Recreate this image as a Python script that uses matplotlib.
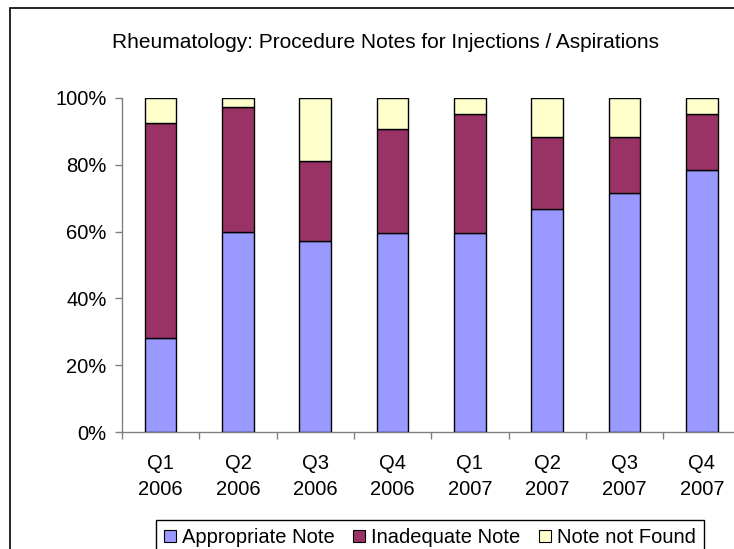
import matplotlib
matplotlib.use("Agg")
import matplotlib.pyplot as plt
from matplotlib.patches import Rectangle, Patch
from matplotlib.ticker import FixedLocator, PercentFormatter
import numpy as np

plt.rcParams["font.family"] = ["Liberation Sans", "DejaVu Sans"]

# ── data (percent of notes per quarter) ──────────────────────────────────────
quarters = ["Q1\n2006", "Q2\n2006", "Q3\n2006", "Q4\n2006",
            "Q1\n2007", "Q2\n2007", "Q3\n2007", "Q4\n2007"]
appropriate = [28.0, 60.0, 57.3, 59.5, 59.5, 66.8, 71.6, 78.5]
inadequate  = [64.5, 37.4, 23.9, 31.2, 35.7, 21.5, 16.7, 16.7]
not_found   = [7.5, 2.6, 18.8, 9.3, 4.8, 11.7, 11.7, 4.8]

series_names  = ["Appropriate Note", "Inadequate Note", "Note not Found"]
series_colors = ["#9999FF", "#993366", "#FFFFCC"]

W, H = 734, 549
fig = plt.figure(figsize=(W / 100, H / 100), dpi=100)
fig.patch.set_facecolor("white")

# chart-area border (right and bottom run off the picture)
fig.patches.append(Rectangle((10 / W, -0.1), 1.2, 1 - 8 / H + 0.1,
                             transform=fig.transFigure, fill=False,
                             edgecolor="black", linewidth=1.2))

ax = fig.add_axes([122 / W, 117 / H, 618.4 / W, 334 / H])
x = np.arange(len(quarters))
bottom = np.zeros(len(quarters))
for vals, col in zip([appropriate, inadequate, not_found], series_colors):
    ax.bar(x, vals, width=0.41, bottom=bottom, color=col,
           edgecolor="black", linewidth=1.0, zorder=3)
    bottom += np.array(vals)

ax.set_xlim(-0.5, len(quarters) - 0.5)
ax.set_ylim(0, 100)
ax.yaxis.set_major_locator(FixedLocator([0, 20, 40, 60, 80, 100]))
ax.yaxis.set_major_formatter(PercentFormatter(decimals=0))

ax.set_xticks(x)
ax.set_xticklabels(quarters, linespacing=1.45)
ax.xaxis.set_minor_locator(FixedLocator(np.arange(-0.5, len(quarters), 1.0)))
ax.tick_params(axis="x", which="major", length=0, pad=16, labelsize=14.5)
ax.tick_params(axis="x", which="minor", length=5, width=1, color="#808080",
               direction="out")
ax.tick_params(axis="y", length=5, width=1, color="#808080", pad=6,
               labelsize=14.5, direction="out")

for side in ["top", "right"]:
    ax.spines[side].set_visible(False)
for side in ["left", "bottom"]:
    ax.spines[side].set_color("#808080")
    ax.spines[side].set_linewidth(1.0)

fig.text(385 / W, 1 - 43 / H, "Rheumatology: Procedure Notes for Injections / Aspirations",
         ha="center", va="center", fontsize=15)

handles = [Patch(facecolor=c, edgecolor="black", linewidth=0.8) for c in series_colors]
fig.legend(handles, series_names, loc="upper center",
           bbox_to_anchor=(430 / W, 1 - 510 / H), ncol=3, fontsize=14.5,
           frameon=True, fancybox=False, edgecolor="black", framealpha=1,
           handlelength=0.6, handleheight=0.6, handletextpad=0.3,
           columnspacing=0.9, borderpad=0.4)

fig.savefig("out.png", dpi=100, facecolor="white")
